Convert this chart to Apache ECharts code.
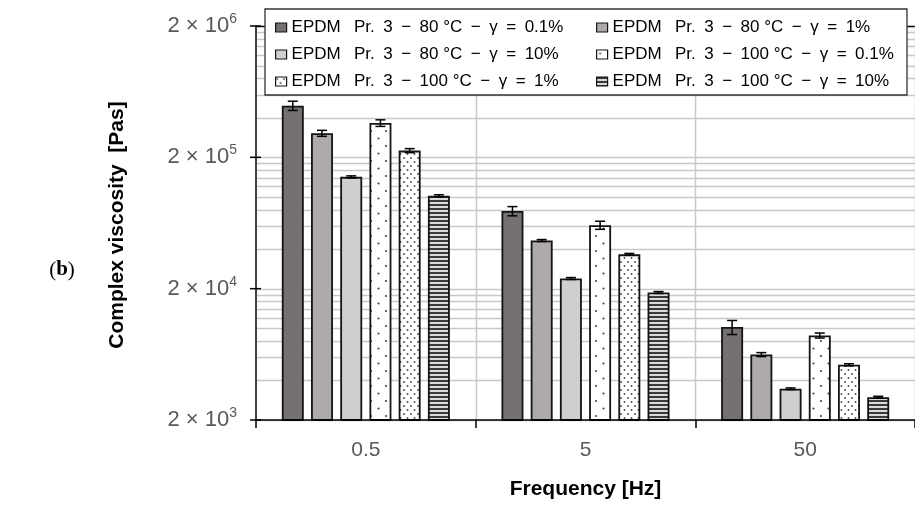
<!DOCTYPE html>
<html>
<head>
<meta charset="utf-8">
<script src="https://cdn.jsdelivr.net/npm/echarts@6/dist/echarts.min.js"></script>
<style>
  html, body { margin: 0; padding: 0; background: #fff; }
  #chart { width: 915px; height: 505px; }
</style>
</head>
<body>
<div id="chart"></div>
<script>
// Frequency categories on the x axis
const frequencies = ['0.5', '5', '50'];

// Series names (temperature and strain amplitude)
const seriesNames = [
  'EPDM\u2002 Pr.\u20023\u2002\u2212\u200280 °C\u2002\u2212\u2002γ\u2002=\u20020.1%',
  'EPDM\u2002 Pr.\u20023\u2002\u2212\u200280 °C\u2002\u2212\u2002γ\u2002=\u20021%',
  'EPDM\u2002 Pr.\u20023\u2002\u2212\u200280 °C\u2002\u2212\u2002γ\u2002=\u200210%',
  'EPDM\u2002 Pr.\u20023\u2002\u2212\u2002100 °C\u2002\u2212\u2002γ\u2002=\u20020.1%',
  'EPDM\u2002 Pr.\u20023\u2002\u2212\u2002100 °C\u2002\u2212\u2002γ\u2002=\u20021%',
  'EPDM\u2002 Pr.\u20023\u2002\u2212\u2002100 °C\u2002\u2212\u2002γ\u2002=\u200210%'
];

// Complex viscosity [Pas] at 0.5, 5 and 50 Hz
const visc80_01  = [495000, 78000, 10200];
const visc80_1   = [305000, 46500, 6300];
const visc80_10  = [142000, 23900, 3460];
const visc100_01 = [365000, 60900, 8800];
const visc100_1  = [225000, 36500, 5270];
const visc100_10 = [102000, 18700, 2980];

// Standard deviations [Pas]
const err80_01  = [40000, 6300, 1250];
const err80_1   = [16000, 800, 220];
const err80_10  = [2500, 400, 50];
const err100_01 = [21000, 4300, 390];
const err100_1  = [8000, 600, 90];
const err100_10 = [1800, 300, 50];

// Y-axis major ticks: 2 × 10^n
const yTickValues = [2000, 20000, 200000, 2000000];
const yTickExponents = ['3', '4', '5', '6'];

const values = [visc80_01, visc80_1, visc80_10, visc100_01, visc100_1, visc100_10];
const errors = [err80_01, err80_1, err80_10, err100_01, err100_1, err100_10];

// ---- fill patterns ----
function makePattern(w, h, draw) {
  const c = document.createElement('canvas');
  c.width = w; c.height = h;
  const g = c.getContext('2d');
  draw(g, w, h);
  return { image: c, repeat: 'repeat' };
}
function dot(g, x, y, r, col) {
  g.fillStyle = col;
  g.beginPath(); g.arc(x, y, r, 0, Math.PI * 2); g.fill();
}
const sparseDots = makePattern(15, 15, (g, w, h) => {
  g.fillStyle = '#ffffff'; g.fillRect(0, 0, w, h);
  dot(g, 3.5, 3.5, 1.1, '#4a4a4a');
  dot(g, 11, 11, 1.1, '#4a4a4a');
});
const fineDots = makePattern(7, 8, (g, w, h) => {
  g.fillStyle = '#ffffff'; g.fillRect(0, 0, w, h);
  dot(g, 1.5, 2, 0.95, '#4a4a4a');
  dot(g, 5, 6, 0.95, '#4a4a4a');
});
const stripes = makePattern(4, 4, (g, w, h) => {
  g.fillStyle = '#dadada'; g.fillRect(0, 0, w, h);
  g.fillStyle = '#3a3a3a'; g.fillRect(0, 0, w, 2);
});
const fills = ['#767171', '#aeaaaa', '#d0cece', sparseDots, fineDots, stripes];

// bar geometry (fractions of the category band)
const BAR_W = 0.1;
const BAR_GAP = 0.33;

const FONT = '"Liberation Sans", Arial, sans-serif';

// horizontal gridlines on the log scale (2, 4, ..., 18 × each decade)
const gridValues = [];
[2000, 20000, 200000].forEach(d => {
  for (let k = 1; k <= 9; k++) gridValues.push(d * k);
});
gridValues.push(2000000);

const barSeries = seriesNames.map((name, i) => ({
  name: name,
  type: 'bar',
  data: values[i],
  barWidth: (BAR_W * 100) + '%',
  barGap: (BAR_GAP * 100) + '%',
  z: 2,
  itemStyle: { color: fills[i], borderColor: '#141414', borderWidth: 1.8 },
  emphasis: { disabled: true }
}));

const errorData = [];
errors.forEach((arr, s) => arr.forEach((e, c) => errorData.push([c, s, values[s][c], e])));

const chart = echarts.init(document.getElementById('chart'), null, { renderer: 'canvas' });

chart.setOption({
  animation: false,
  backgroundColor: '#ffffff',
  grid: { left: 256, right: 0, top: 26, bottom: 80.5, containLabel: false },
  xAxis: {
    type: 'category',
    data: frequencies,
    z: 4,
    axisLine: { lineStyle: { color: '#000', width: 1.5 } },
    axisTick: { show: true, length: 8, lineStyle: { color: '#000', width: 1.5 } },
    axisLabel: { color: '#595959', fontSize: 21, fontFamily: FONT, margin: 20 },
    splitLine: { show: false },
    name: 'Frequency [Hz]',
    nameLocation: 'middle',
    nameGap: 59,
    nameTextStyle: { color: '#000', fontSize: 21, fontWeight: 'bold', fontFamily: FONT }
  },
  yAxis: {
    type: 'log',
    logBase: 10,
    min: 2000,
    max: 2000000,
    z: 4,
    axisLine: { show: true, lineStyle: { color: '#000', width: 1.5 } },
    axisTick: { show: false },
    axisLabel: { show: false },
    splitLine: { show: false },
    minorSplitLine: { show: false }
  },
  legend: [
    {
      data: [seriesNames[0], seriesNames[2], seriesNames[4]],
      orient: 'vertical', left: 275, top: 19, padding: 0, z: 5,
      itemWidth: 11, itemHeight: 9, itemGap: 10, icon: 'rect', selectedMode: false,
      itemStyle: { borderColor: '#141414', borderWidth: 1.2 },
      textStyle: { color: '#000', fontSize: 17, fontFamily: FONT, lineHeight: 17 }
    },
    {
      data: [seriesNames[1], seriesNames[3], seriesNames[5]],
      orient: 'vertical', left: 596, top: 19, padding: 0, z: 5,
      itemWidth: 11, itemHeight: 9, itemGap: 10, icon: 'rect', selectedMode: false,
      itemStyle: { borderColor: '#141414', borderWidth: 1.2 },
      textStyle: { color: '#000', fontSize: 17, fontFamily: FONT, lineHeight: 17 }
    }
  ],
  graphic: [
    {
      type: 'rect', z: 3,
      shape: { x: 265, y: 9, width: 642, height: 86 },
      style: { fill: '#ffffff', stroke: '#333333', lineWidth: 1.3 }
    },
    {
      type: 'text', x: 117, y: 225, rotation: Math.PI / 2, z: 5,
      style: {
        text: 'Complex viscosity  [Pas]',
        font: 'bold 21px ' + FONT, fill: '#000',
        align: 'center', verticalAlign: 'middle'
      }
    },
    {
      type: 'text', x: 62, y: 270, z: 5,
      style: {
        text: '({b|b})',
        font: '21px "Liberation Serif", "DejaVu Serif", serif', fill: '#000',
        align: 'center', verticalAlign: 'middle',
        rich: { b: { font: 'bold 21px "Liberation Serif", "DejaVu Serif", serif', fill: '#000' } }
      }
    }
  ],
  series: [
    // horizontal gridlines
    {
      type: 'custom', z: 1, silent: true, clip: false,
      data: gridValues.map(v => [0, v]),
      encode: { x: 0, y: 1 },
      renderItem: (params, api) => {
        const v = api.value(1);
        const y = Math.round(api.coord([0, v])[1]) + 0.5;
        const cs = params.coordSys;
        const top = v >= 2000000;
        return {
          type: 'line',
          shape: { x1: cs.x + 1, y1: y, x2: cs.x + cs.width, y2: y },
          style: { stroke: top ? '#000' : '#c8c8c8', lineWidth: 1.5 }
        };
      }
    },
    // vertical gridlines at category boundaries
    {
      type: 'custom', z: 1, silent: true, clip: false,
      data: frequencies.map((f, i) => [i, 2000]),
      encode: { x: 0, y: 1 },
      renderItem: (params, api) => {
        const c = api.coord([api.value(0), api.value(1)]);
        const band = api.size([1, 1], [api.value(0), api.value(1)])[0];
        const x = Math.round(c[0] + band / 2) + 0.5;
        const cs = params.coordSys;
        return {
          type: 'line',
          shape: { x1: x, y1: cs.y, x2: x, y2: cs.y + cs.height },
          style: { stroke: '#c8c8c8', lineWidth: 1.5 }
        };
      }
    },
    // y-axis major ticks and labels (2 × 10^n)
    {
      type: 'custom', z: 4, silent: true, clip: false,
      data: yTickValues.map((v, i) => [0, v, i]),
      encode: { x: 0, y: 1 },
      renderItem: (params, api) => {
        const y = api.coord([0, api.value(1)])[1];
        const x0 = params.coordSys.x;
        const exp = yTickExponents[api.value(2)];
        return {
          type: 'group',
          children: [
            {
              type: 'line',
              shape: { x1: x0 - 6, y1: y, x2: x0 + 5, y2: y },
              style: { stroke: '#000', lineWidth: 1.5 }
            },
            {
              type: 'text', x: x0 - 19, y: y,
              style: {
                text: '{m|2 × 10}{e|' + exp + '}',
                align: 'right', verticalAlign: 'middle',
                rich: {
                  m: { fontSize: 22, fontFamily: FONT, fill: '#595959', lineHeight: 28 },
                  e: { fontSize: 14, fontFamily: FONT, fill: '#595959', lineHeight: 15, verticalAlign: 'top' }
                }
              }
            }
          ]
        };
      }
    },
    ...barSeries,
    // error bars
    {
      type: 'custom', z: 3, silent: true, clip: false,
      data: errorData,
      encode: { x: 0, y: 2 },
      renderItem: (params, api) => {
        const cat = api.value(0), s = api.value(1), v = api.value(2), e = api.value(3);
        const c = api.coord([cat, v]);
        const band = api.size([1, 1], [cat, v])[0];
        const bw = band * BAR_W;
        const pitch = bw * (1 + BAR_GAP);
        const x = c[0] + (s - 2.5) * pitch;
        const yHi = api.coord([cat, v + e])[1];
        const yLo = api.coord([cat, v - e])[1];
        const cap = 5;
        const st = { stroke: '#000', lineWidth: 1.5 };
        return {
          type: 'group',
          children: [
            { type: 'line', shape: { x1: x, y1: yHi, x2: x, y2: yLo }, style: st },
            { type: 'line', shape: { x1: x - cap, y1: yHi, x2: x + cap, y2: yHi }, style: st },
            { type: 'line', shape: { x1: x - cap, y1: yLo, x2: x + cap, y2: yLo }, style: st }
          ]
        };
      }
    }
  ]
});
</script>
</body>
</html>
